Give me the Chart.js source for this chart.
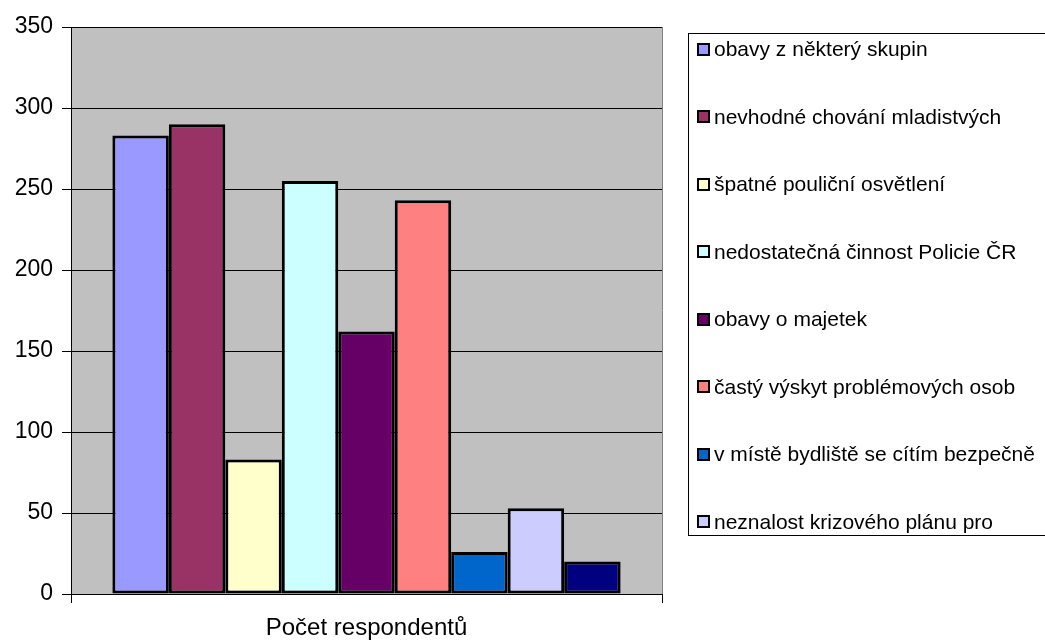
<!DOCTYPE html>
<html>
<head>
<meta charset="utf-8">
<script src="https://cdn.jsdelivr.net/npm/chart.js@4/dist/chart.umd.min.js"></script>
<style>
  html, body { margin: 0; padding: 0; background: #fff; overflow: hidden; }
  #wrap { position: relative; width: 1045px; height: 642px; }
  #legend {
    position: absolute; left: 688px; top: 33px; width: 420px; height: 503px;
    border: 1px solid #000; border-right: none; overflow: hidden; box-sizing: border-box;
    font-family: "Liberation Sans", Arial, sans-serif; font-size: 21px; color: #000;
  }
  .item { position: absolute; left: 8px; height: 24px; display: flex; align-items: center; white-space: nowrap; }
  .box { width: 9px; height: 9px; border: 2px solid #000; margin-right: 4px; flex: none; }
</style>
</head>
<body>
<div id="wrap">
  <canvas id="chart" width="1045" height="642"></canvas>
  <div id="legend"></div>
</div>
<script>
// data
const categories = ['Počet respondentů'];
const seriesLabels = [
  'obavy z některý skupin',
  'nevhodné chování mladistvých',
  'špatné pouliční osvětlení',
  'nedostatečná činnost Policie ČR',
  'obavy o majetek',
  'častý výskyt problémových osob',
  'v místě bydliště se cítím bezpečně',
  'neznalost krizového plánu pro',
  ''
];
const seriesValues = [283, 290, 83, 255, 162, 243, 26, 53, 20];
const seriesColors = ['#9999FF', '#993366', '#FFFFCC', '#CCFFFF', '#660066', '#FF8080', '#0066CC', '#CCCCFF', '#000080'];
const yTicks = [0, 50, 100, 150, 200, 250, 300, 350];

const FONT = '"Liberation Sans", Arial, sans-serif';

// gray plot area + right border like the Excel original
const plotArea = {
  id: 'plotArea',
  beforeDraw(chart) {
    const { ctx, chartArea: a } = chart;
    ctx.save();
    ctx.fillStyle = '#C0C0C0';
    ctx.fillRect(a.left, a.top, a.right - a.left, a.bottom - a.top);
    ctx.strokeStyle = '#808080';
    ctx.lineWidth = 1;
    ctx.beginPath();
    ctx.moveTo(a.right + 0.5, a.top);
    ctx.lineTo(a.right + 0.5, a.bottom);
    ctx.stroke();
    ctx.restore();
  }
};

const datasets = seriesValues.map((v, i) => ({
  label: seriesLabels[i],
  data: [v],
  backgroundColor: seriesColors[i],
  borderColor: '#000',
  borderWidth: 3,
  borderSkipped: false,
  categoryPercentage: 0.86,
  barPercentage: 1
}));

new Chart(document.getElementById('chart'), {
  type: 'bar',
  data: { labels: categories, datasets },
  plugins: [plotArea],
  options: {
    responsive: false,
    animation: false,
    layout: { padding: { top: 27, right: 383, left: 0, bottom: 0 } },
    plugins: { legend: { display: false }, tooltip: { enabled: false } },
    scales: {
      x: {
        afterFit(s) { s.height = 48; },
        grid: { display: true, offset: true, drawOnChartArea: false, color: '#000', tickLength: 9 },
        border: { display: true, color: '#000', width: 1 },
        ticks: { color: '#000', font: { family: FONT, size: 24 }, padding: 11 }
      },
      y: {
        min: 0,
        max: 350,
        afterFit(s) { s.width = 71; },
        afterBuildTicks(s) { s.ticks = yTicks.map(v => ({ value: v })); },
        grid: { color: '#000', tickLength: 9 },
        border: { display: true, color: '#000', width: 1 },
        ticks: { color: '#000', font: { family: FONT, size: 23 }, padding: 9 }
      }
    }
  }
});

// legend (box is clipped at the bottom, as in the original)
const legend = document.getElementById('legend');
seriesLabels.forEach((label, i) => {
  if (!label) return;
  const item = document.createElement('div');
  item.className = 'item';
  item.style.top = (3 + i * 67.5) + 'px';
  const box = document.createElement('span');
  box.className = 'box';
  box.style.background = seriesColors[i];
  const text = document.createElement('span');
  text.textContent = label;
  item.appendChild(box);
  item.appendChild(text);
  legend.appendChild(item);
});
</script>
</body>
</html>
